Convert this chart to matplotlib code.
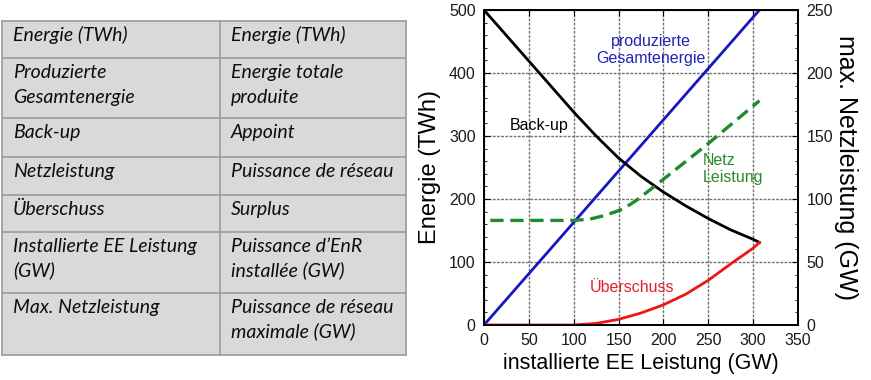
import matplotlib.pyplot as plt
from matplotlib.patches import Rectangle
from matplotlib.ticker import MultipleLocator

# ---------- data ----------
# table (German / French)
terms_de = ["Energie (TWh)", "Produzierte\nGesamtenergie", "Back-up", "Netzleistung",
            "Überschuss", "Installierte EE Leistung\n(GW)", "Max. Netzleistung"]
terms_fr = ["Energie (TWh)", "Energie totale\nproduite", "Appoint", "Puissance de réseau",
            "Surplus", "Puissance d’EnR\ninstallée (GW)", "Puissance de réseau\nmaximale (GW)"]

# installed renewable power (GW) vs energy (TWh)
prod_x = [0, 307]
prod_y = [0, 500]

backup_x = [0, 100, 125, 150, 175, 200, 225, 250, 275, 300, 307]
backup_y = [500, 338, 300, 265, 236, 211, 189, 169, 151, 136, 131]

surplus_x = [0, 100, 125, 150, 175, 200, 225, 250, 275, 300, 307]
surplus_y = [0, 0, 2.5, 9, 19, 32, 49, 71, 97, 122, 131]

# max. grid power (GW), right axis
netz_x = [7, 50, 100, 118, 135, 155, 170, 190, 250, 307]
netz_y = [83, 83, 83, 84, 87, 92, 99, 110, 144, 178]

# ---------- figure ----------
W, H = 871, 380
fig = plt.figure(figsize=(W / 100, H / 100), dpi=100)

# table drawn in pixel coordinates
tax = fig.add_axes([0, 0, 1, 1])
tax.set_xlim(0, W)
tax.set_ylim(H, 0)
tax.axis("off")

row_edges = [21, 58, 118, 157, 195, 232, 293, 355]
col_edges = [2, 220, 406]
tax.add_patch(Rectangle((col_edges[0], row_edges[0]), col_edges[-1] - col_edges[0],
                        row_edges[-1] - row_edges[0], facecolor="#d9d9d9",
                        edgecolor="none"))
for y in row_edges:
    tax.plot([col_edges[0], col_edges[-1]], [y, y], color="#a0a0a0", lw=1.3)
for x in col_edges:
    tax.plot([x, x], [row_edges[0], row_edges[-1]], color="#a0a0a0", lw=1.3)

for i in range(len(terms_de)):
    for j, txt in enumerate([terms_de[i], terms_fr[i]]):
        for k, line in enumerate(txt.split("\n")):
            tax.text(col_edges[j] + 11, row_edges[i] + 20 + k * 24.5, line,
                     fontsize=14, family="Lato", style="italic", color="#0d0d0d",
                     va="baseline", ha="left")

# chart
font = "Liberation Sans"
ax = fig.add_axes([484 / W, 55 / H, 314 / W, 315 / H])
ax.plot(prod_x, prod_y, color="#1616c4", lw=2.0, zorder=3)
ax.plot(backup_x, backup_y, color="black", lw=2.0, zorder=3)
ax.plot(surplus_x, surplus_y, color="#f01414", lw=2.0, zorder=3)
ax.set_xlim(0, 350)
ax.set_ylim(0, 500)
ax.xaxis.set_major_locator(MultipleLocator(50))
ax.yaxis.set_major_locator(MultipleLocator(100))
ax.yaxis.set_minor_locator(MultipleLocator(20))
ax.grid(True, color="#737373", lw=1.0, linestyle=(0, (2, 1)))
ax.tick_params(axis="both", which="both", direction="in", top=True, right=False,
               labelsize=11.5, pad=6, colors="black")
ax.tick_params(which="major", length=4)
ax.tick_params(which="minor", length=2.5)
for lab in ax.get_xticklabels() + ax.get_yticklabels():
    lab.set_family(font)
    lab.set_color("#1a1a1a")
ax.set_xlabel("installierte EE Leistung (GW)", fontsize=15.5, family=font, labelpad=3)
ax.set_ylabel("Energie (TWh)", fontsize=17, family=font, labelpad=6)

ax2 = ax.twinx()
ax2.plot(netz_x, netz_y, color="#1e8c2e", lw=2.4, dashes=(4, 2))
ax2.set_ylim(0, 250)
ax2.yaxis.set_major_locator(MultipleLocator(50))
ax2.yaxis.set_minor_locator(MultipleLocator(10))
ax2.tick_params(axis="y", which="both", direction="in", labelsize=11.5, pad=6)
ax2.tick_params(which="major", length=4)
ax2.tick_params(which="minor", length=2.5)
for lab in ax2.get_yticklabels():
    lab.set_family(font)
    lab.set_color("#1a1a1a")
ax2.set_ylabel("max. Netzleistung (GW)", fontsize=18, family=font, rotation=270,
               labelpad=18)

for a in (ax, ax2):
    for s in a.spines.values():
        s.set_linewidth(1.3)

# curve labels
ax.text(61, 317, "Back-up", fontsize=11.5, family=font, color="black",
        ha="center", va="center")
ax.text(186, 437, "produzierte\nGesamtenergie", fontsize=11.5, family=font,
        color="#2222b8", ha="center", va="center", linespacing=1.15)
ax.text(244, 248, "Netz\nLeistung", fontsize=11.5, family=font, color="#2a8a2a",
        ha="left", va="center", linespacing=1.15)
ax.text(164.5, 59, "Überschuss", fontsize=11.5, family=font, color="#e0202a",
        ha="center", va="center")

fig.savefig("out.png", dpi=100)
